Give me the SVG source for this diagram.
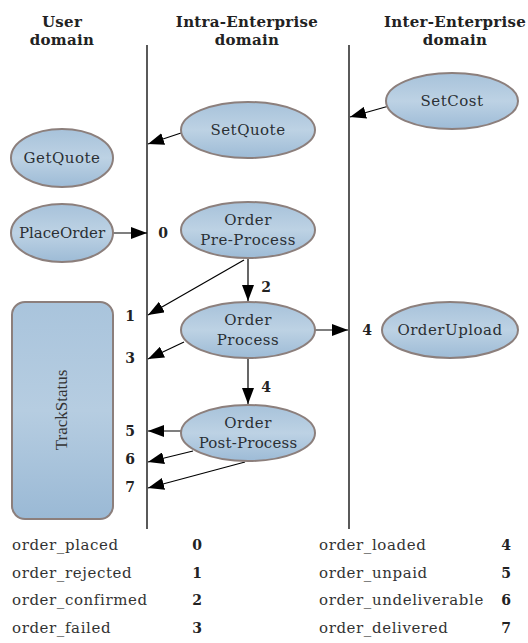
<svg xmlns="http://www.w3.org/2000/svg" width="528" height="643" viewBox="0 0 528 643">
<defs>
<linearGradient id="g" x1="0" y1="0" x2="0" y2="1">
<stop offset="0" stop-color="#a7c2da"/>
<stop offset="0.5" stop-color="#bdd2e4"/>
<stop offset="1" stop-color="#9dbbd6"/>
</linearGradient>
<linearGradient id="gr" x1="0" y1="0" x2="0" y2="1">
<stop offset="0" stop-color="#a9c4dc"/>
<stop offset="0.5" stop-color="#b6cde1"/>
<stop offset="1" stop-color="#9ab9d5"/>
</linearGradient>
<marker id="ah" markerUnits="userSpaceOnUse" markerWidth="16" markerHeight="12" refX="16" refY="6" orient="auto">
<path d="M0,0 L16,6 L0,12 z" fill="#000"/>
</marker>
</defs>
<style>
.hd{font-family:"DejaVu Serif","Liberation Serif",serif;font-weight:bold;font-size:15px;letter-spacing:0.3px;fill:#222;text-anchor:middle}
.nd{fill:url(#g);stroke:#8c7f7c;stroke-width:2}
.lb{font-family:"DejaVu Serif","Liberation Serif",serif;font-size:15px;letter-spacing:0.5px;fill:#2a2f34;text-anchor:middle}
.num{font-family:"DejaVu Serif","Liberation Serif",serif;font-weight:bold;font-size:14px;fill:#222;text-anchor:middle}
.lg{font-family:"DejaVu Serif","Liberation Serif",serif;font-size:15px;letter-spacing:0.6px;fill:#333}
.ln{stroke:#000;stroke-width:1.3;fill:none}
.ed{stroke:#000;stroke-width:1.2;fill:none;marker-end:url(#ah)}
</style>
<rect width="528" height="643" fill="#fff"/>
<g id="headers">
<text class="hd" x="62" y="27">User</text>
<text class="hd" x="62" y="45">domain</text>
<text class="hd" x="247" y="27">Intra-Enterprise</text>
<text class="hd" x="247" y="45">domain</text>
<text class="hd" x="455" y="27">Inter-Enterprise</text>
<text class="hd" x="455" y="45">domain</text>
</g>
<g id="lanes">
<line class="ln" x1="147" y1="45" x2="147" y2="529"/>
<line class="ln" x1="349" y1="45" x2="349" y2="529"/>
</g>
<g id="connectors">
<line class="ed" x1="389" y1="106" x2="350" y2="117"/>
<line class="ed" x1="181" y1="133" x2="148" y2="144"/>
<line class="ed" x1="113" y1="233" x2="147" y2="233"/>
<line class="ed" x1="248" y1="259" x2="248" y2="301"/>
<line class="ed" x1="244" y1="260" x2="148" y2="315"/>
<line class="ed" x1="315" y1="330" x2="348" y2="330"/>
<line class="ed" x1="184" y1="342" x2="148" y2="359"/>
<line class="ed" x1="248" y1="359" x2="248" y2="404"/>
<line class="ed" x1="181" y1="431" x2="148" y2="431"/>
<line class="ed" x1="193" y1="451" x2="148" y2="462"/>
<line class="ed" x1="245" y1="462" x2="148" y2="488"/>
</g>
<g id="edge-labels">
<text class="num" x="163" y="238">0</text>
<text class="num" x="266" y="292">2</text>
<text class="num" x="130" y="321">1</text>
<text class="num" x="367" y="335">4</text>
<text class="num" x="130" y="363">3</text>
<text class="num" x="266" y="392">4</text>
<text class="num" x="130" y="436">5</text>
<text class="num" x="130" y="464">6</text>
<text class="num" x="130" y="492">7</text>
</g>
<g id="SetCost">
<ellipse class="nd" cx="452" cy="101" rx="66" ry="28"/>
<text class="lb" x="452" y="106">SetCost</text>
</g>
<g id="SetQuote">
<ellipse class="nd" cx="248" cy="130" rx="67" ry="28"/>
<text class="lb" x="248" y="135">SetQuote</text>
</g>
<g id="GetQuote">
<ellipse class="nd" cx="62" cy="158" rx="51" ry="29"/>
<text class="lb" x="62" y="163">GetQuote</text>
</g>
<g id="PlaceOrder">
<ellipse class="nd" cx="62" cy="233" rx="51" ry="29"/>
<text class="lb" x="62" y="238" style="letter-spacing:0px">PlaceOrder</text>
</g>
<g id="OrderPreProcess">
<ellipse class="nd" cx="248" cy="230" rx="67" ry="28"/>
<text class="lb" x="248" y="225">Order</text>
<text class="lb" x="248" y="245">Pre-Process</text>
</g>
<g id="OrderProcess">
<ellipse class="nd" cx="248" cy="330" rx="67" ry="28"/>
<text class="lb" x="248" y="325">Order</text>
<text class="lb" x="248" y="345">Process</text>
</g>
<g id="OrderUpload">
<ellipse class="nd" cx="450" cy="330" rx="68" ry="28"/>
<text class="lb" x="450" y="335">OrderUpload</text>
</g>
<g id="OrderPostProcess">
<ellipse class="nd" cx="248" cy="433" rx="67" ry="28"/>
<text class="lb" x="248" y="428">Order</text>
<text class="lb" x="248" y="448" style="letter-spacing:0.2px">Post-Process</text>
</g>
<g id="TrackStatus">
<rect x="12" y="302" width="101" height="217" rx="13" fill="url(#gr)" stroke="#8c7f7c" stroke-width="2"/>
<text x="62" y="410" transform="rotate(-90 62 410)" dy="5" style="font-family:'Liberation Serif',serif;font-size:17px;fill:#333;text-anchor:middle">TrackStatus</text>
</g>
<g id="legend">
<text class="lg" x="12" y="550">order_placed</text>
<text class="lg" x="12" y="578">order_rejected</text>
<text class="lg" x="12" y="605">order_confirmed</text>
<text class="lg" x="12" y="633">order_failed</text>
<text class="num" x="197" y="550">0</text>
<text class="num" x="197" y="578">1</text>
<text class="num" x="197" y="605">2</text>
<text class="num" x="197" y="633">3</text>
<text class="lg" x="319" y="550">order_loaded</text>
<text class="lg" x="319" y="578">order_unpaid</text>
<text class="lg" x="319" y="605">order_undeliverable</text>
<text class="lg" x="319" y="633">order_delivered</text>
<text class="num" x="506" y="550">4</text>
<text class="num" x="506" y="578">5</text>
<text class="num" x="506" y="605">6</text>
<text class="num" x="506" y="633">7</text>
</g>
</svg>
